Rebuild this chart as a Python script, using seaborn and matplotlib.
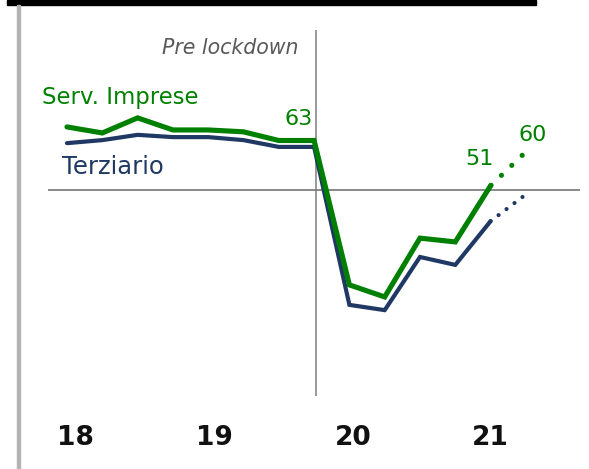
import matplotlib
matplotlib.use("Agg")
import matplotlib.pyplot as plt
from matplotlib.patches import Rectangle
import seaborn as sns
import pandas as pd

# PMI-style index, quarterly steps (50 = expansion/contraction threshold)
periods = list(range(13))
serv_imprese = [66.6, 65.0, 69.0, 65.8, 65.8, 65.3, 63.0, 63.0, 24.7, 21.5, 37.1, 36.1, 51.0]
terziario = [62.3, 63.1, 64.5, 63.9, 63.9, 63.1, 61.3, 61.3, 19.4, 18.0, 32.1, 30.0, 41.6]

# projection segment (last actual value -> expected value)
proj_periods = [12, 13]
serv_imprese_proj = [51.0, 60.0]
terziario_proj = [41.6, 48.7]

year_ticks = [0.23, 4.19, 8.10, 11.98]
year_labels = ["18", "19", "20", "21"]
lockdown_x = 7.05

GREEN = "#008000"
NAVY = "#1f3864"

sns.set_theme(style="white")
plt.rcParams["font.family"] = ["DejaVu Sans"]

fig = plt.figure(figsize=(5.89, 4.69), dpi=100)
ax = fig.add_axes([0, 0.1471, 1, 0.8422])

df = pd.DataFrame({
    "period": periods * 2,
    "value": terziario + serv_imprese,
    "serie": ["Terziario"] * 13 + ["Serv. Imprese"] * 13,
})
dfp = pd.DataFrame({
    "period": proj_periods * 2,
    "value": terziario_proj + serv_imprese_proj,
    "serie": ["Terziario"] * 2 + ["Serv. Imprese"] * 2,
})

# reference lines
ax.hlines(50, -0.54, 14.53, color="#7f7f7f", lw=1.3, zorder=1)
ax.vlines(lockdown_x, -4.77, 92.3, color="#7f7f7f", lw=1.1, zorder=1)

sns.lineplot(data=df[df.serie == "Terziario"], x="period", y="value",
             color=NAVY, lw=3.0, ax=ax, legend=False, zorder=3,
             solid_capstyle="round", solid_joinstyle="miter")
sns.lineplot(data=df[df.serie == "Serv. Imprese"], x="period", y="value",
             color=GREEN, lw=3.7, ax=ax, legend=False, zorder=4,
             solid_capstyle="round", solid_joinstyle="miter")

# dotted projections
sns.lineplot(data=dfp[dfp.serie == "Terziario"], x="period", y="value",
             color=NAVY, lw=3.0, ax=ax, legend=False, zorder=3,
             linestyle=(0, (0.01, 2.39)), dash_capstyle="round")
sns.lineplot(data=dfp[dfp.serie == "Serv. Imprese"], x="period", y="value",
             color=GREEN, lw=3.7, ax=ax, legend=False, zorder=4,
             linestyle=(2.68, (0.01, 2.79)), dash_capstyle="round")

ax.set_xlim(-1.898, 14.788)
ax.set_ylim(-5.84, 98.94)

# annotations
ax.text(6.57, 87.5, "Pre lockdown", ha="right", va="center", fontsize=14.8,
        style="italic", color="#595959")
ax.text(-0.71, 74.5, "Serv. Imprese", ha="left", va="center", fontsize=16.4,
        color=GREEN)
ax.text(-0.14, 56.1, "Terziario", ha="left", va="center", fontsize=17.5,
        color=NAVY)
ax.text(6.56, 68.6, "63", ha="center", va="center", fontsize=16, color=GREEN)
ax.text(11.7, 58.2, "51", ha="center", va="center", fontsize=16, color=GREEN)
ax.text(13.19, 64.5, "60", ha="center", va="center", fontsize=16, color=GREEN)

ax.set_xticks(year_ticks)
ax.set_xticklabels(year_labels, fontsize=19, fontweight="bold", color="#111111")
ax.tick_params(axis="x", length=0, pad=18)
ax.set_yticks([])
ax.set_xlabel("")
ax.set_ylabel("")
for s in ax.spines.values():
    s.set_visible(False)
ax.patch.set_alpha(0)

# frame decorations: black header bar and grey left rule
fig.patches.append(Rectangle((7 / 589, 1 - 5 / 469), 529 / 589, 5 / 469,
                             transform=fig.transFigure, color="black", zorder=0))
fig.patches.append(Rectangle((17 / 589, 0), 3 / 589, 1 - 5 / 469,
                             transform=fig.transFigure, color="#b3b3b3", zorder=0))

fig.savefig("out.png", dpi=100)
